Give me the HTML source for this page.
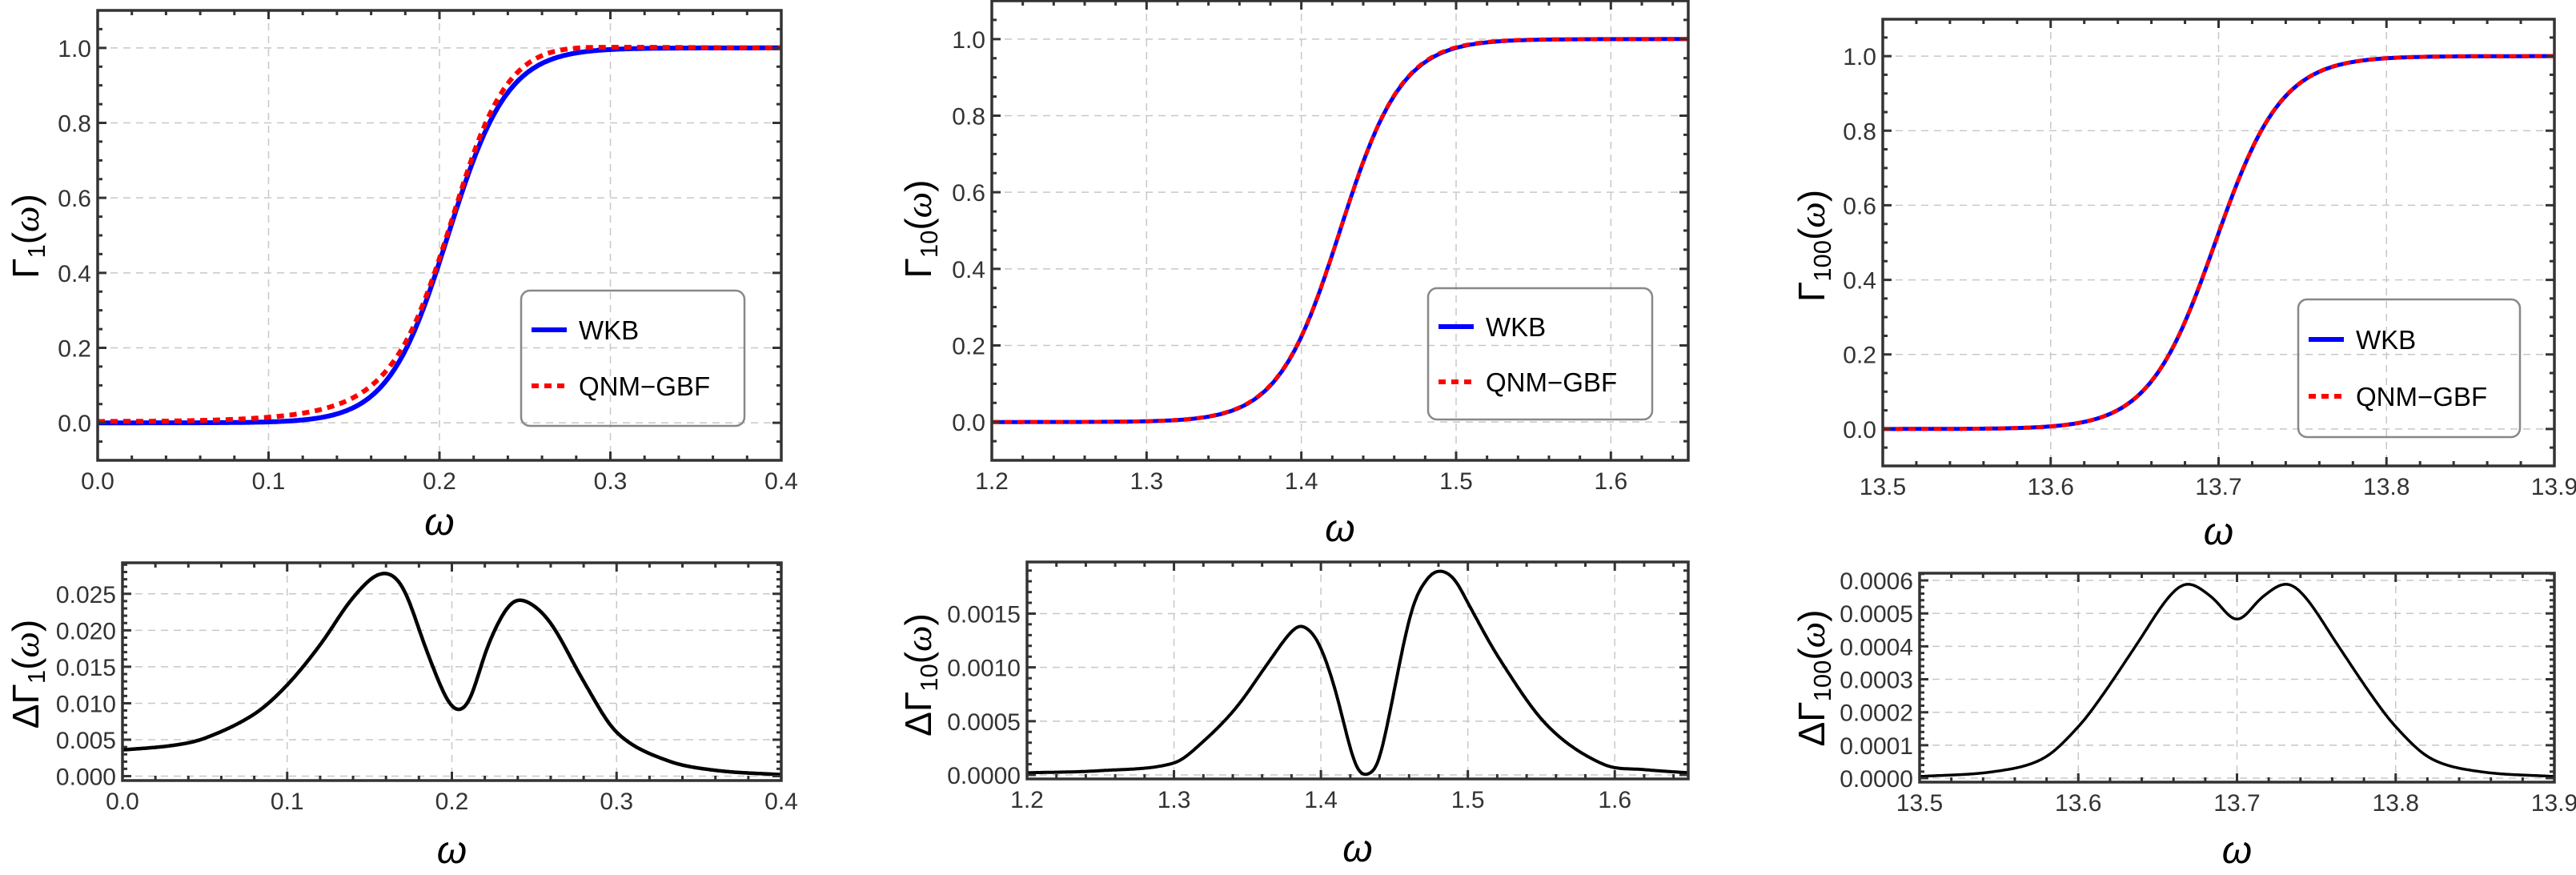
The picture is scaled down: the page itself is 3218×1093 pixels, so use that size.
<!DOCTYPE html>
<html><head><meta charset="utf-8">
<style>
html,body{margin:0;padding:0;background:#fff;}
svg{display:block;}
text{font-family:"Liberation Sans",sans-serif;}
</style></head>
<body>
<svg id="s" width="3218" height="1093" xmlns="http://www.w3.org/2000/svg"></svg>
<script>
const S=document.getElementById('s');
let out='';
function sig(x,c,s){return 1/(1+Math.exp(-(x-c)/s));}
function spline(pts){
  const raw=function(x){
    const n=pts.length;
    if(x<=pts[0][0])return pts[0][1];
    if(x>=pts[n-1][0])return pts[n-1][1];
    let i=0;while(pts[i+1][0]<x)i++;
    const p0=pts[Math.max(i-1,0)],p1=pts[i],p2=pts[i+1],p3=pts[Math.min(i+2,n-1)];
    const t=(x-p1[0])/(p2[0]-p1[0]);
    const h=p2[0]-p1[0];
    const m1=(p2[1]-p0[1])/(p2[0]-p0[0])*h, m2=(p3[1]-p1[1])/(p3[0]-p1[0])*h;
    const t2=t*t,t3=t2*t;
    return (2*t3-3*t2+1)*p1[1]+(t3-2*t2+t)*m1+(-2*t3+3*t2)*p2[1]+(t3-t2)*m2;
  };
  const a=pts[0][0],b=pts[pts.length-1][0],sg=(b-a)*0.006;
  return function(x){
    let s=0,w=0;
    for(let k=-12;k<=12;k++){const u=k/4;const ww=Math.exp(-u*u/2);let xx=x+u*sg;
      if(xx<a)xx=a;if(xx>b)xx=b;s+=ww*raw(xx);w+=ww;}
    return s/w;
  };
}
function fmt(v,d){return v.toFixed(d);}
function panel(c){
  const X=v=>c.x0+(v-c.xmin)/(c.xmax-c.xmin)*(c.x1-c.x0);
  const Y=v=>c.y1-(v-c.ymin)/(c.ymax-c.ymin)*(c.y1-c.y0);
  for(const v of c.xt){out+=`<line x1="${X(v)}" y1="${c.y0}" x2="${X(v)}" y2="${c.y1}" stroke="#c8c8c8" stroke-width="1.5" stroke-dasharray="9,7"/>`;}
  for(const v of c.yt){out+=`<line x1="${c.x0}" y1="${Y(v)}" x2="${c.x1}" y2="${Y(v)}" stroke="#c8c8c8" stroke-width="1.5" stroke-dasharray="9,7"/>`;}
  out+=`<svg x="${c.x0}" y="${c.y0}" width="${c.x1-c.x0}" height="${c.y1-c.y0}" overflow="hidden"><g transform="translate(${-c.x0},${-c.y0})">`;
  for(const cv of c.curves){
    let d='';const N=600;
    for(let i=0;i<=N;i++){const x=c.xmin+(c.xmax-c.xmin)*i/N;d+=(i?'L':'M')+X(x).toFixed(1)+','+Y(cv.f(x)).toFixed(1);}
    out+=`<path d="${d}" fill="none" stroke="${cv.col}" stroke-width="${cv.w}" ${cv.dash?'stroke-dasharray="'+cv.dash+'"':''} stroke-linejoin="round"/>`;
  }
  out+=`</g></svg>`;
  let tk='';
  const xminor=c.xminor, yminor=c.yminor;
  for(let v=c.xmin;v<=c.xmax+1e-9;v+=xminor){
    const maj=c.xt.some(t=>Math.abs(t-v)<xminor/10);const L=maj?11:6;const px=X(v);
    tk+=`M${px},${c.y1}v${-L}M${px},${c.y0}v${L}`;
  }
  let start=Math.ceil((c.ymin-1e-12)/yminor)*yminor;
  for(let v=start;v<=c.ymax+1e-12;v+=yminor){
    const maj=c.yt.some(t=>Math.abs(t-v)<yminor/10);const L=maj?11:6;const py=Y(v);
    tk+=`M${c.x0},${py}h${L}M${c.x1},${py}h${-L}`;
  }
  out+=`<path d="${tk}" stroke="#333" stroke-width="3" fill="none"/>`;
  out+=`<rect x="${c.x0}" y="${c.y0}" width="${c.x1-c.x0}" height="${c.y1-c.y0}" fill="none" stroke="#333" stroke-width="3.5"/>`;
  for(const v of c.xt){out+=`<text x="${X(v)}" y="${c.y1+36}" font-size="30" fill="#333" text-anchor="middle">${fmt(v,c.xd)}</text>`;}
  for(const v of c.yt){out+=`<text x="${c.x0-8}" y="${Y(v)+11}" font-size="30" fill="#333" text-anchor="end">${fmt(v,c.yd)}</text>`;}
  out+=`<text x="${(c.x0+c.x1)/2}" y="${c.xly}" font-size="48" font-style="italic" text-anchor="middle" font-family="Liberation Serif,serif">ω</text>`;
  out+=`<text transform="translate(${c.ylx},${c.yly}) rotate(-90)" font-size="46" text-anchor="middle">${c.ylab}</text>`;
  if(c.leg){const L=c.leg;
    out+=`<rect x="${L.x}" y="${L.y}" width="${L.w}" height="${L.h}" rx="11" fill="none" stroke="#888" stroke-width="2.5"/>`;
    out+=`<line x1="${L.x+13}" y1="${L.y1}" x2="${L.x+57}" y2="${L.y1}" stroke="#00f" stroke-width="6"/>`;
    out+=`<line x1="${L.x+13}" y1="${L.y2}" x2="${L.x+57}" y2="${L.y2}" stroke="#f00" stroke-width="6" stroke-dasharray="9,7"/>`;
    out+=`<text x="${L.x+72}" y="${L.y1+12}" font-size="33">WKB</text>`;
    out+=`<text x="${L.x+72}" y="${L.y2+12}" font-size="33">QNM−GBF</text>`;
  }
}
const sub=s=>`<tspan font-size="31" dy="8">${s}</tspan><tspan dy="-8">(</tspan><tspan font-family="Liberation Serif,serif" font-style="italic">ω</tspan>)`;
const d1=spline([[0,0.0036],[0.03,0.0042],[0.05,0.0052],[0.08,0.0085],[0.1,0.0125],[0.12,0.018],[0.14,0.0245],[0.157,0.0278],[0.17,0.026],[0.185,0.017],[0.197,0.0105],[0.204,0.009],[0.211,0.0105],[0.222,0.018],[0.235,0.0235],[0.245,0.024],[0.26,0.021],[0.28,0.013],[0.3,0.006],[0.33,0.0022],[0.36,0.0008],[0.4,0.0002]]);
const d10=spline([[1.2,0.00002],[1.25,0.00004],[1.3,0.00011],[1.319,0.0003],[1.342,0.00062],[1.364,0.00104],[1.379,0.00132],[1.387,0.00139],[1.398,0.00124],[1.409,0.00083],[1.424,0.00007],[1.433,0.00001],[1.44,0.00015],[1.461,0.0015],[1.472,0.00182],[1.481,0.0019],[1.491,0.00182],[1.5,0.0016],[1.521,0.00109],[1.554,0.00046],[1.592,0.0001],[1.62,0.00005],[1.65,0.00002]]);
const h=[[13.5,0.000005],[13.547,0.00002],[13.578,0.00006],[13.6,0.000156],[13.615,0.00025],[13.636,0.0004],[13.657,0.00055],[13.669,0.00059],[13.684,0.00055],[13.7,0.00048]];
const d100=spline(h.concat(h.slice(0,-1).reverse().map(p=>[27.4-p[0],p[1]])));
const w1=x=>sig(x,0.205,0.0175), w10=x=>sig(x,1.425,0.02), w100=x=>sig(x,13.698,0.0198);
panel({x0:122,x1:976,y0:13,y1:575,xmin:0,xmax:0.4,ymin:-0.1,ymax:1.1,xt:[0,0.1,0.2,0.3,0.4],yt:[0,0.2,0.4,0.6,0.8,1.0],xd:1,yd:1,xminor:0.02,yminor:0.05,xly:668,ylx:48,yly:295,ylab:'Γ'+sub('1'),
 curves:[{f:w1,col:'#00f',w:6},{f:x=>w1(x)+d1(x),col:'#f00',w:6,dash:'9,7'}],leg:{x:651,y:363,w:279,h:169,y1:412,y2:482}});
panel({x0:1239,x1:2109,y0:1,y1:575,xmin:1.2,xmax:1.65,ymin:-0.1,ymax:1.1,xt:[1.2,1.3,1.4,1.5,1.6],yt:[0,0.2,0.4,0.6,0.8,1.0],xd:1,yd:1,xminor:0.02,yminor:0.05,xly:676,ylx:1163,yly:286,ylab:'Γ'+sub('10'),
 curves:[{f:w10,col:'#00f',w:5},{f:x=>w10(x)+d10(x),col:'#f00',w:5,dash:'9,7'}],leg:{x:1784,y:360,w:280,h:164,y1:408,y2:477}});
panel({x0:2352,x1:3191,y0:24,y1:582,xmin:13.5,xmax:13.9,ymin:-0.0990,ymax:1.099,xt:[13.5,13.6,13.7,13.8,13.9],yt:[0,0.2,0.4,0.6,0.8,1.0],xd:1,yd:1,xminor:0.02,yminor:0.05,xly:680,ylx:2279,yly:307,ylab:'Γ'+sub('100'),
 curves:[{f:w100,col:'#00f',w:5},{f:x=>w100(x)+d100(x),col:'#f00',w:5,dash:'9,7'}],leg:{x:2871,y:374,w:277,h:172,y1:424,y2:495}});
panel({x0:153,x1:976,y0:703,y1:975,xmin:0,xmax:0.4,ymin:-0.0006,ymax:0.02926,xt:[0,0.1,0.2,0.3,0.4],yt:[0,0.005,0.01,0.015,0.02,0.025],xd:1,yd:3,xminor:0.02,yminor:0.001,xly:1078,ylx:48,yly:842,ylab:'ΔΓ'+sub('1'),
 curves:[{f:d1,col:'#000',w:4.5}]});
panel({x0:1283,x1:2109,y0:702,y1:973,xmin:1.2,xmax:1.65,ymin:-0.000037,ymax:0.00198,xt:[1.2,1.3,1.4,1.5,1.6],yt:[0,0.0005,0.001,0.0015],xd:1,yd:4,xminor:0.02,yminor:0.0001,xly:1076,ylx:1163,yly:843,ylab:'ΔΓ'+sub('10'),
 curves:[{f:d10,col:'#000',w:4}]});
panel({x0:2398,x1:3191,y0:716,y1:977,xmin:13.5,xmax:13.9,ymin:-0.000012,ymax:0.000622,xt:[13.5,13.6,13.7,13.8,13.9],yt:[0,0.0001,0.0002,0.0003,0.0004,0.0005,0.0006],xd:1,yd:4,xminor:0.02,yminor:0.00002,xly:1078,ylx:2279,yly:847,ylab:'ΔΓ'+sub('100'),
 curves:[{f:d100,col:'#000',w:3.5}]});
S.innerHTML=out;
</script>
</body></html>
